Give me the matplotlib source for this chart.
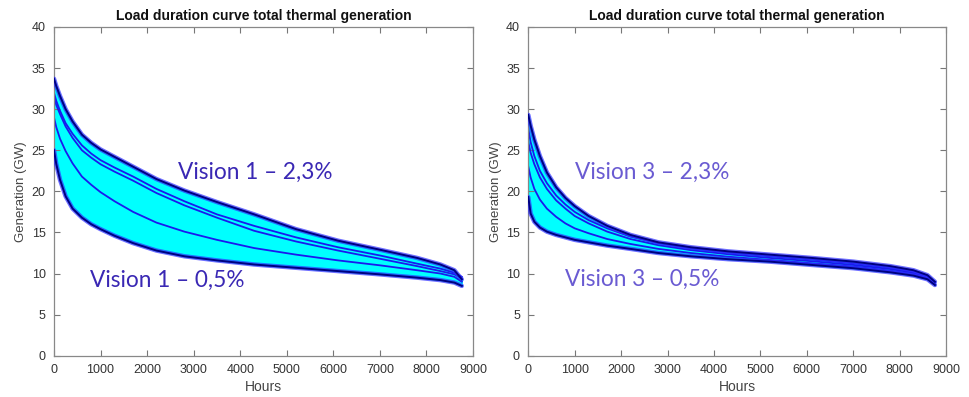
import numpy as np
import matplotlib
matplotlib.use('Agg')
import matplotlib.pyplot as plt

# hours grid shared by all curves
hours = [0, 50, 130, 250, 400, 600, 800, 1000, 1300, 1700, 2200, 2800, 3500,
         4300, 5200, 6100, 7000, 7800, 8300, 8600, 8760]

# Vision 1 (left panel), GW
v1_upper = [33.7, 32.8, 31.6, 30.0, 28.5, 26.9, 25.9, 25.1, 24.2, 23.0, 21.5, 20.1, 18.7,
            17.2, 15.4, 14.0, 12.9, 11.9, 11.1, 10.4, 9.3]
v1_mid1 = [32.0, 31.0, 29.8, 28.3, 27.0, 25.6, 24.6, 23.8, 22.9, 21.8, 20.3, 18.8, 17.2,
           15.8, 14.4, 13.2, 12.2, 11.2, 10.6, 10.1, 9.6]
v1_mid2 = [31.4, 30.5, 29.4, 27.9, 26.5, 25.0, 24.1, 23.3, 22.4, 21.3, 19.8, 18.3, 16.8,
           15.2, 13.9, 12.8, 11.8, 10.9, 10.3, 9.9, 9.4]
v1_mid3 = [29.0, 27.8, 26.4, 24.9, 23.4, 21.8, 20.8, 19.9, 18.8, 17.5, 16.2, 15.1, 14.1,
           13.1, 12.3, 11.6, 11.0, 10.4, 10.0, 9.6, 9.0]
v1_lower = [25.0, 23.3, 21.4, 19.4, 17.9, 16.8, 16.0, 15.4, 14.6, 13.7, 12.8, 12.1, 11.6,
            11.1, 10.7, 10.3, 9.9, 9.5, 9.2, 8.9, 8.5]

# Vision 3 (right panel), GW
v3_upper = [29.3, 28.0, 26.3, 24.3, 22.3, 20.5, 19.2, 18.2, 17.0, 15.8, 14.7, 13.8, 13.2,
            12.7, 12.3, 11.9, 11.45, 10.9, 10.4, 9.8, 9.0]
v3_mid1 = [27.6, 26.0, 24.3, 22.5, 21.0, 19.5, 18.4, 17.5, 16.5, 15.5, 14.5, 13.7, 13.05,
           12.55, 12.1, 11.7, 11.25, 10.7, 10.25, 9.7, 8.9]
v3_mid2 = [26.0, 24.7, 23.3, 21.7, 20.3, 18.9, 17.9, 17.0, 16.1, 15.1, 14.2, 13.45, 12.85,
           12.35, 11.9, 11.5, 11.05, 10.55, 10.1, 9.6, 8.8]
v3_mid3 = [23.0, 21.7, 20.3, 19.0, 17.9, 16.9, 16.1, 15.5, 14.9, 14.2, 13.6, 13.0, 12.5,
           12.05, 11.65, 11.25, 10.85, 10.35, 9.95, 9.45, 8.7]
v3_lower = [19.3, 17.3, 16.3, 15.6, 15.1, 14.7, 14.4, 14.1, 13.8, 13.4, 13.0, 12.5, 12.1,
            11.75, 11.45, 11.05, 10.65, 10.15, 9.75, 9.3, 8.6]

title = 'Load duration curve total thermal generation'
xticks = [0, 1000, 2000, 3000, 4000, 5000, 6000, 7000, 8000, 9000]
yticks = [0, 5, 10, 15, 20, 25, 30, 35, 40]

plt.rcParams['font.family'] = ['Liberation Sans', 'DejaVu Sans']

fig = plt.figure(figsize=(9.69, 3.97), dpi=100)
ax1 = fig.add_axes([0.0557, 0.104, 0.4324, 0.828])
ax2 = fig.add_axes([0.5452, 0.104, 0.4311, 0.828])


def draw_panel(ax, upper, mids, lower, hi_text, lo_text, hi_pos, lo_pos, text_color):
    ax.fill_between(hours, lower, upper, color='#00ffff', zorder=1)
    for m in mids:
        ax.plot(hours, m, color='#1a1aee', lw=1.3, zorder=2)
    for c in (upper, lower):
        ax.plot(hours, c, color='#3030ff', lw=3.2, alpha=0.7, zorder=3, solid_capstyle='round')
        ax.plot(hours, c, color='#000080', lw=1.4, zorder=4)
    ax.set_xlim(0, 9000)
    ax.set_ylim(0, 40)
    ax.set_xticks(xticks)
    ax.set_yticks(yticks)
    ax.tick_params(direction='in', top=True, right=True, length=4, width=0.8,
                   labelsize=9, colors='#777777', labelcolor='#333333', pad=6)
    for s in ax.spines.values():
        s.set_color('#888888')
        s.set_linewidth(0.9)
    ax.set_title(title, fontsize=10, fontweight='bold', color='#111111', pad=5)
    ax.set_xlabel('Hours', fontsize=10, color='#444444', labelpad=3)
    ax.set_ylabel('Generation (GW)', fontsize=9.5, color='#444444', labelpad=3)
    ax.text(hi_pos[0], hi_pos[1], hi_text, fontsize=16.3, color=text_color,
            va='center', ha='left', family=['Lato', 'DejaVu Sans'])
    ax.text(lo_pos[0], lo_pos[1], lo_text, fontsize=16.3, color=text_color,
            va='center', ha='left', family=['Lato', 'DejaVu Sans'])


draw_panel(ax1, v1_upper, [v1_mid1, v1_mid2, v1_mid3], v1_lower,
           'Vision 1 \u2013 2,3%', 'Vision 1 \u2013 0,5%', (2660, 22.3), (770, 9.2), '#3a28b4')
draw_panel(ax2, v3_upper, [v3_mid1, v3_mid2, v3_mid3], v3_lower,
           'Vision 3 \u2013 2,3%', 'Vision 3 \u2013 0,5%', (1000, 22.3), (790, 9.3), '#6a5bd2')

fig.savefig('out.png', dpi=100)
